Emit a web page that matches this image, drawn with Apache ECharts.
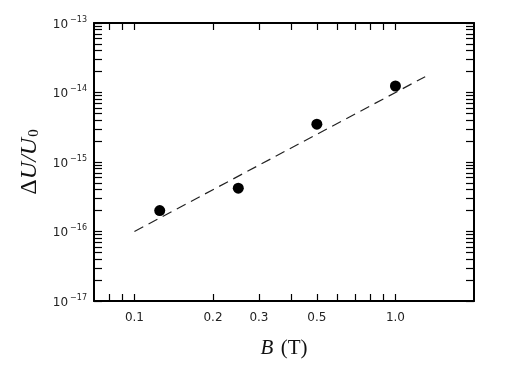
<!DOCTYPE html>
<html>
<head>
<meta charset="utf-8">
<script src="https://cdn.jsdelivr.net/npm/echarts@6/dist/echarts.min.js"></script>
<style>
  html, body { margin: 0; padding: 0; background: #fff; }
  #chart { width: 509px; height: 370px; }
</style>
</head>
<body>
<div id="chart"></div>
<script>
// measured points
var fieldB = [0.125, 0.25, 0.5, 1.0];
var deltaU = [2.0e-16, 4.2e-16, 3.5e-15, 1.24e-14];

// dashed guide line, two end points
var fitB = [0.1, 1.3];
var fitU = [1.0e-16, 1.69e-14];

// ticks
var xTicks = [0.08, 0.09, 0.1, 0.2, 0.3, 0.4, 0.5, 0.6, 0.7, 0.8, 0.9, 1.0];
var xLabels = [0.1, 0.2, 0.3, 0.5, 1.0];
var yDecades = [1e-17, 1e-16, 1e-15, 1e-14, 1e-13];
var yTicks = [
  1e-17, 2e-17, 3e-17, 4e-17, 5e-17, 6e-17, 7e-17, 8e-17, 9e-17,
  1e-16, 2e-16, 3e-16, 4e-16, 5e-16, 6e-16, 7e-16, 8e-16, 9e-16,
  1e-15, 2e-15, 3e-15, 4e-15, 5e-15, 6e-15, 7e-15, 8e-15, 9e-15,
  1e-14, 2e-14, 3e-14, 4e-14, 5e-14, 6e-14, 7e-14, 8e-14, 9e-14,
  1e-13
];

var chart;

initChart();

function xAxisDef(pos, showLabel) {
  return {
    type: 'log',
    position: pos,
    min: 0.07,
    max: 2.0,
    logBase: 10,
    splitLine: { show: false },
    axisLine: { show: true, onZero: false, lineStyle: { color: '#000', width: 2 } },
    axisTick: { show: true, inside: true, length: 7, customValues: xTicks,
      lineStyle: { color: '#000', width: 1.2 } },
    minorTick: { show: false },
    axisLabel: {
      show: showLabel,
      customValues: xLabels,
      margin: 11,
      fontFamily: 'DejaVu Sans',
      fontSize: 12,
      color: '#222',
      formatter: function (v) {
        var n = Number(v.toPrecision(3));
        return n === 1 ? '1.0' : String(n);
      }
    }
  };
}

function yAxisDef(pos, showLabel) {
  return {
    type: 'log',
    position: pos,
    min: 1e-17,
    max: 1e-13,
    logBase: 10,
    splitLine: { show: false },
    axisLine: { show: true, onZero: false, lineStyle: { color: '#000', width: 2 } },
    axisTick: { show: true, inside: true, length: 8, customValues: yTicks,
      lineStyle: { color: '#000', width: 1.2 } },
    minorTick: { show: false },
    axisLabel: {
      show: showLabel,
      customValues: yDecades,
      margin: 7,
      formatter: function (v) {
        var e = Math.round(Math.log10(v));
        return '{b|10}{s|\u2212' + Math.abs(e) + '}';
      },
      rich: {
        b: { fontFamily: 'DejaVu Sans', fontSize: 12, color: '#222', verticalAlign: 'bottom' },
        s: { fontFamily: 'DejaVu Sans', fontSize: 8, color: '#222', verticalAlign: 'bottom',
          padding: [0, 0, 7, 2] }
      }
    }
  };
}

function initChart() {
  chart = echarts.init(document.getElementById('chart'));

  var pts = fieldB.map(function (b, i) { return [b, deltaU[i]]; });
  var fit = fitB.map(function (b, i) { return [b, fitU[i]]; });

  var xMain = xAxisDef('bottom', true);
  xMain.name = '{i|B}{r| (T)}';
  xMain.nameLocation = 'middle';
  xMain.nameGap = 37;
  xMain.nameTextStyle = {
    rich: {
      i: { fontFamily: 'Liberation Serif', fontStyle: 'italic', fontSize: 21, color: '#111' },
      r: { fontFamily: 'Liberation Serif', fontSize: 21, color: '#111', padding: [0, 0, 0, 2] }
    }
  };

  var yMain = yAxisDef('left', true);
  yMain.name = '{d|\u0394}{i|U/U}{sub|0}';
  yMain.nameLocation = 'middle';
  yMain.nameGap = 52;
  yMain.nameTextStyle = {
    rich: {
      d: { fontFamily: 'Liberation Serif', fontSize: 24, color: '#111', verticalAlign: 'bottom' },
      i: { fontFamily: 'Liberation Serif', fontStyle: 'italic', fontSize: 24, color: '#111', verticalAlign: 'bottom' },
      sub: { fontFamily: 'Liberation Serif', fontSize: 15, color: '#111', verticalAlign: 'bottom',
        padding: [0, 0, 0, 1] }
    }
  };

  var option = {
    animation: false,
    backgroundColor: '#fff',
    grid: { left: 94, top: 23, right: 35, bottom: 69, containLabel: false },
    xAxis: [xMain, xAxisDef('top', false)],
    yAxis: [yMain, yAxisDef('right', false)],
    series: [{
      type: 'line',
      data: fit,
      symbol: 'none',
      lineStyle: { color: '#222', width: 1.2, type: [10, 6] },
      silent: true,
      z: 2
    }, {
      type: 'scatter',
      data: pts,
      symbol: 'circle',
      symbolSize: 11,
      itemStyle: { color: '#000', opacity: 1 },
      z: 3
    }]
  };
  chart.setOption(option);
}
</script>
</body>
</html>
